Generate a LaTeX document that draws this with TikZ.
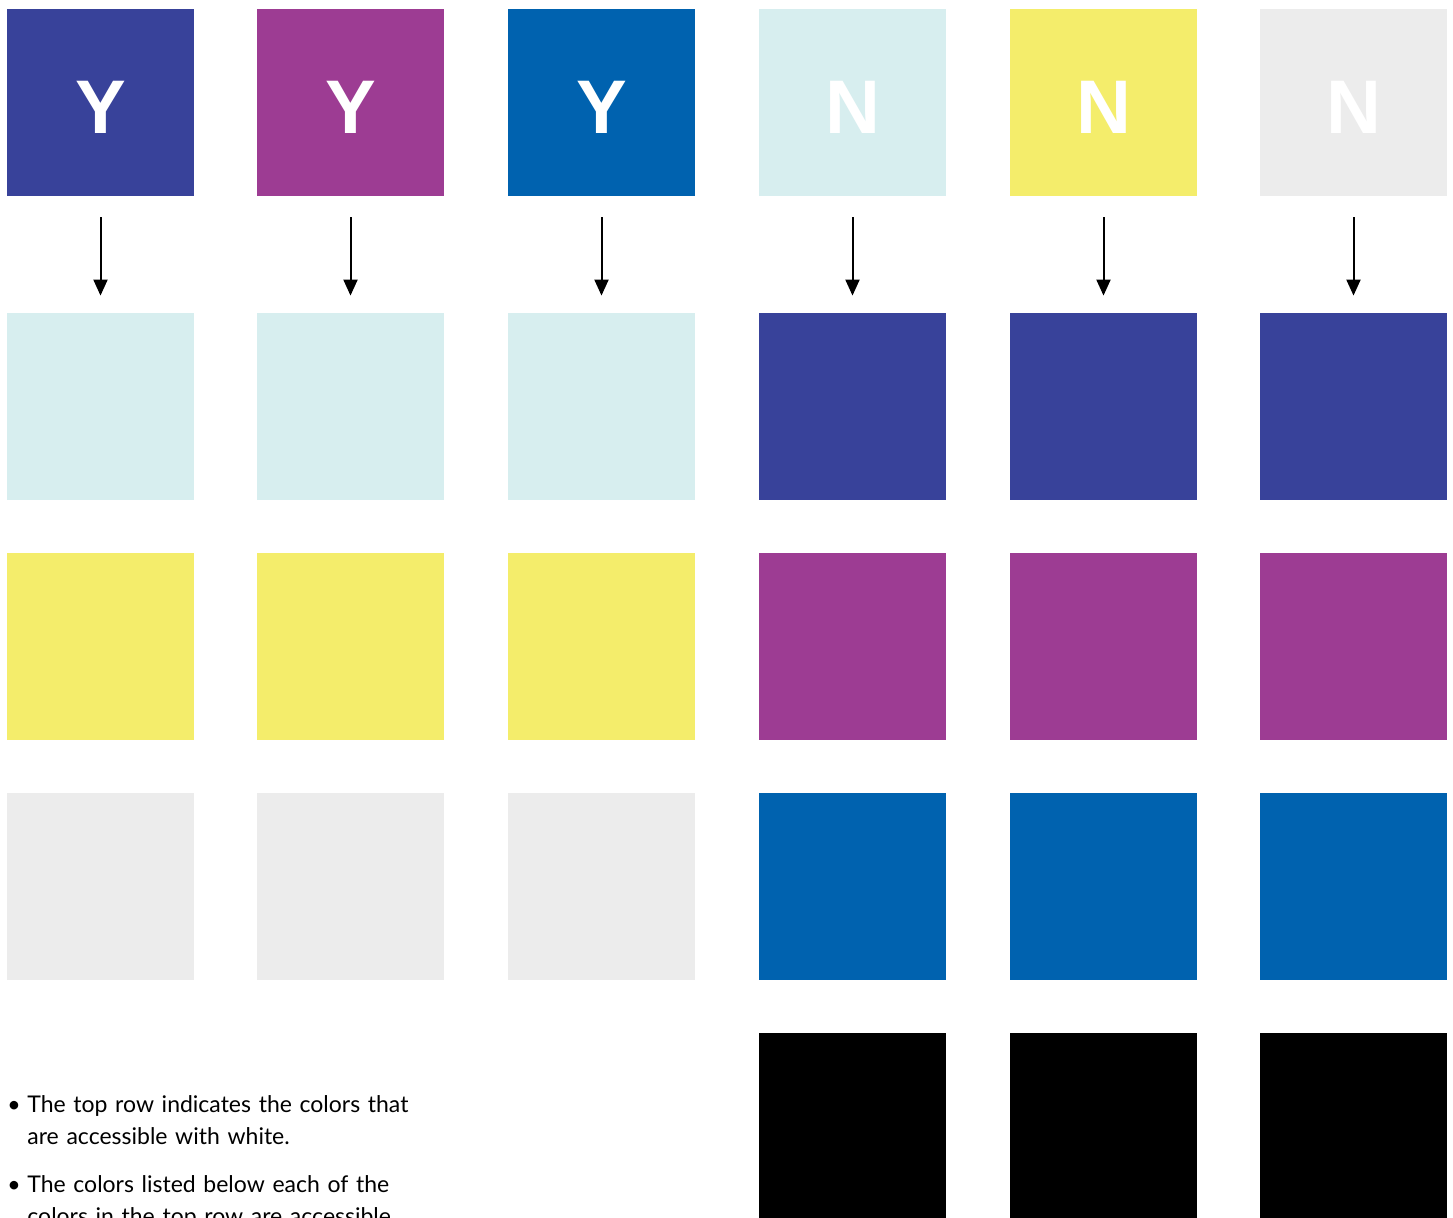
\documentclass[tikz,border=0pt]{standalone}
\usepackage{fontspec}
\setmainfont{Lato}
\newfontfamily\headfont{Liberation Sans}
\usepackage{xcolor}
\usetikzlibrary{positioning,arrows.meta,calc}

\definecolor{navy}{HTML}{38429A}
\definecolor{plum}{HTML}{9D3C93}
\definecolor{ocean}{HTML}{0062AF}
\definecolor{ice}{HTML}{D7EEEF}
\definecolor{lemon}{HTML}{F4ED6B}
\definecolor{mist}{HTML}{ECECEC}

\begin{document}
\begin{tikzpicture}[x=0.5pt, y=-0.5pt,
  sq/.style={rectangle, draw=none, inner sep=0pt, minimum width=93.5pt, minimum height=93.5pt},
  letter/.style={text=white, inner sep=0pt, font=\headfont\bfseries\fontsize{38}{40}\selectfont},
  arr/.style={-{Triangle[length=8pt, width=7pt]}, line width=1pt, shorten <=10.5pt, shorten >=8.5pt},
  note/.style={anchor=base west, inner sep=0pt, text width=215pt, align=left, font=\fontsize{11.5}{16}\selectfont}]
\useasboundingbox (0,0) rectangle (1453,1218);
\clip (0,0) rectangle (1453,1218);
% top row: white accessible or not
\node[sq, fill=navy] (navyY) at (100.5,102.5) {};
\node[sq, fill=plum] (plumY) at (350.5,102.5) {};
\node[sq, fill=ocean] (oceanY) at (601.5,102.5) {};
\node[sq, fill=ice] (iceN) at (852.5,102.5) {};
\node[sq, fill=lemon] (lemonN) at (1103.5,102.5) {};
\node[sq, fill=mist] (mistN) at (1353.5,102.5) {};
\node[letter] (yA) at (100.5,107.5) {Y};
\node[letter] (yB) at (350.5,107.5) {Y};
\node[letter] (yC) at (601.5,107.5) {Y};
\node[letter] (nD) at (852.5,107.5) {N};
\node[letter] (nE) at (1103.5,107.5) {N};
\node[letter] (nF) at (1353.5,107.5) {N};
% pairs below
\node[sq, fill=ice] (iceA) at (100.5,406.5) {};
\node[sq, fill=ice] (iceB) at (350.5,406.5) {};
\node[sq, fill=ice] (iceC) at (601.5,406.5) {};
\node[sq, fill=navy] (navyD) at (852.5,406.5) {};
\node[sq, fill=navy] (navyE) at (1103.5,406.5) {};
\node[sq, fill=navy] (navyF) at (1353.5,406.5) {};
\node[sq, fill=lemon] (lemonA) at (100.5,646.5) {};
\node[sq, fill=lemon] (lemonB) at (350.5,646.5) {};
\node[sq, fill=lemon] (lemonC) at (601.5,646.5) {};
\node[sq, fill=plum] (plumD) at (852.5,646.5) {};
\node[sq, fill=plum] (plumE) at (1103.5,646.5) {};
\node[sq, fill=plum] (plumF) at (1353.5,646.5) {};
\node[sq, fill=mist] (mistA) at (100.5,886.5) {};
\node[sq, fill=mist] (mistB) at (350.5,886.5) {};
\node[sq, fill=mist] (mistC) at (601.5,886.5) {};
\node[sq, fill=ocean] (oceanD) at (852.5,886.5) {};
\node[sq, fill=ocean] (oceanE) at (1103.5,886.5) {};
\node[sq, fill=ocean] (oceanF) at (1353.5,886.5) {};
\node[sq, fill=black] (blackD) at (852.5,1126.5) {};
\node[sq, fill=black] (blackE) at (1103.5,1126.5) {};
\node[sq, fill=black] (blackF) at (1353.5,1126.5) {};
\draw[arr] (navyY.south) -- (iceA.north);
\draw[arr] (plumY.south) -- (iceB.north);
\draw[arr] (oceanY.south) -- (iceC.north);
\draw[arr] (iceN.south) -- (navyD.north);
\draw[arr] (lemonN.south) -- (navyE.north);
\draw[arr] (mistN.south) -- (navyF.north);
% notes
\node[note, text width=10pt] (dotA) at (7,1113) {•};
\node[note] (noteA) at (27,1113) {The top row indicates the colors that\\are accessible with white.};
\node[note, text width=10pt] (dotB) at (7,1193) {•};
\node[note] (noteB) at (27,1193) {The colors listed below each of the\\colors in the top row are accessible};
\end{tikzpicture}
\end{document}
